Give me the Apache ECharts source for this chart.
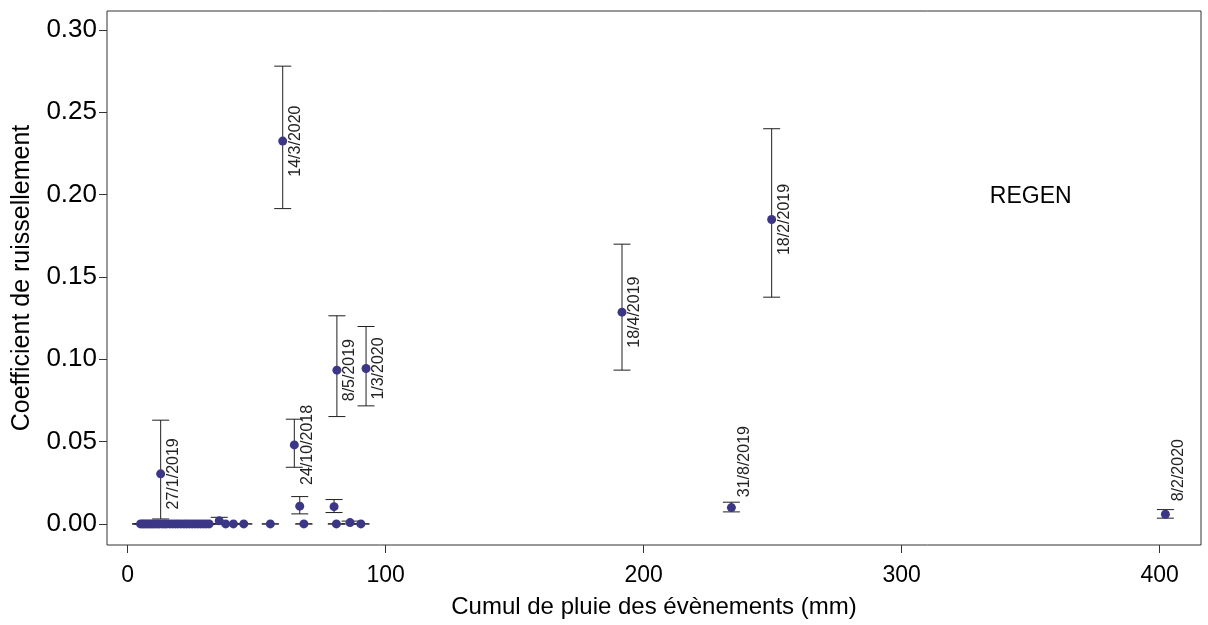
<!DOCTYPE html>
<html>
<head>
<meta charset="utf-8">
<script src="https://cdn.jsdelivr.net/npm/echarts@6/dist/echarts.min.js"></script>
<style>
html,body{margin:0;padding:0;background:#fff;}
#chart{width:1208px;height:625px;}
</style>
</head>
<body>
<div id="chart"></div>
<script>
// ---- data ----
const xTicks = [0, 100, 200, 300, 400];
const yTicks = [0, 0.05, 0.10, 0.15, 0.20, 0.25, 0.30];

// events with runoff > 0 (cumulative rain mm, coefficient, low, high, label)
const rainPos  = [12.8, 60.1, 64.6, 81.1, 92.4, 191.6, 249.6, 234.0, 402.2, 66.7, 80.0, 86.2, 35.5];
const coefPos  = [0.0304, 0.2325, 0.0480, 0.0934, 0.0944, 0.1286, 0.1849, 0.0099, 0.0059, 0.0108, 0.0105, 0.0008, 0.0020];
const lowPos   = [0.0030, 0.1915, 0.0344, 0.0652, 0.0717, 0.0934, 0.1377, 0.0073, 0.0035, 0.0061, 0.0069, 0.0000, 0.0000];
const highPos  = [0.0630, 0.2780, 0.0636, 0.1264, 0.1199, 0.1699, 0.2400, 0.0132, 0.0087, 0.0166, 0.0148, 0.0017, 0.0040];
const eventLabels = ['27/1/2019', '14/3/2020', '24/10/2018', '8/5/2019', '1/3/2020', '18/4/2019', '18/2/2019', '31/8/2019', '8/2/2020', '', '', '', ''];

// events with zero runoff (cumulative rain mm)
const rainZero = [5.0, 5.8, 6.5, 7.3, 8.1, 8.9, 9.7, 10.5, 11.4, 12.2, 13.3, 14.2, 15.1, 16.3, 17.4, 18.5, 19.5, 20.6, 21.8, 22.8, 23.9, 25.0, 26.1, 27.2, 28.3, 29.4, 30.5, 31.6, 38.0, 41.0, 45.0, 55.3, 68.3, 80.9, 90.4];

const panelTitle = 'REGEN';
const xTitle = 'Cumul de pluie des évènements (mm)';
const yTitle = 'Coefficient de ruissellement';

// ---- build ----
const pts = [];
for (let i = 0; i < rainPos.length; i++) pts.push([rainPos[i], coefPos[i], lowPos[i], highPos[i], eventLabels[i]]);
for (let i = 0; i < rainZero.length; i++) pts.push([rainZero[i], 0, 0, 0, '']);
const labelled = pts.filter(p => p[4] !== '');

const labelShift = {'31/8/2019': -46, '8/2/2020': -44};
const FONT = "'Liberation Sans', Arial, sans-serif";
const dotColor = '#3b3786';
const barColor = '#1f1f1f';

const chart = echarts.init(document.getElementById('chart'));
chart.setOption({
  animation: false,
  backgroundColor: '#fff',
  grid: {left: 107, top: 11, right: 7, bottom: 80, show: true, borderColor: '#333', borderWidth: 1,
         containLabel: false, outerBoundsMode: 'none'},
  xAxis: {
    type: 'value', min: -8, max: 416,
    name: xTitle, nameLocation: 'middle', nameGap: 50,
    nameTextStyle: {fontFamily: FONT, fontSize: 24, color: '#000'},
    axisLine: {show: false, onZero: false},
    axisTick: {show: true, inside: false, length: 8, customValues: xTicks, lineStyle: {color: '#333'}},
    axisLabel: {customValues: xTicks, margin: 19, fontFamily: FONT, fontSize: 23, color: '#000'},
    splitLine: {show: false}
  },
  yAxis: {
    type: 'value', min: -0.0128, max: 0.3115,
    name: yTitle, nameLocation: 'middle', nameGap: 72,
    nameTextStyle: {fontFamily: FONT, fontSize: 25, color: '#000'},
    axisLine: {show: false, onZero: false},
    axisTick: {show: true, inside: false, length: 8, customValues: yTicks, lineStyle: {color: '#333'}},
    axisLabel: {customValues: yTicks, margin: 10, fontFamily: FONT, fontSize: 26, color: '#000', formatter: v => v.toFixed(2)},
    splitLine: {show: false}
  },
  series: [
    {
      type: 'custom',
      data: pts,
      z: 2,
      renderItem: function (params, api) {
        const x = api.value(0);
        const lo = api.coord([x, api.value(2)]);
        const hi = api.coord([x, api.value(3)]);
        const hw = 8.5;
        const ls = {stroke: barColor, lineWidth: 1};
        return {type: 'group', children: [
          {type: 'line', shape: {x1: lo[0], y1: lo[1], x2: hi[0], y2: hi[1]}, style: ls},
          {type: 'line', shape: {x1: lo[0] - hw, y1: lo[1], x2: lo[0] + hw, y2: lo[1]}, style: ls},
          {type: 'line', shape: {x1: hi[0] - hw, y1: hi[1], x2: hi[0] + hw, y2: hi[1]}, style: ls}
        ]};
      }
    },
    {
      type: 'scatter',
      data: pts.map(p => [p[0], p[1]]),
      symbol: 'circle', symbolSize: 9,
      itemStyle: {color: dotColor, opacity: 1},
      z: 3
    },
    {
      type: 'custom',
      data: labelled.map(p => [p[0], p[1]]),
      z: 4,
      renderItem: function (params, api) {
        const lab = labelled[params.dataIndex][4];
        const c = api.coord([api.value(0), api.value(1)]);
        const dy = labelShift[lab] || 0;
        return {
          type: 'text', x: c[0] + 13, y: c[1] + dy, rotation: Math.PI / 2,
          style: {text: lab, fontFamily: FONT, fontSize: 16, fill: '#222', align: 'center', verticalAlign: 'middle'}
        };
      }
    },
    {
      type: 'custom',
      data: [[350, 0.199]],
      z: 5,
      silent: true,
      renderItem: function (params, api) {
        const c = api.coord([api.value(0), api.value(1)]);
        return {type: 'text', x: c[0], y: c[1],
          style: {text: panelTitle, fontFamily: FONT, fontSize: 23, fill: '#000', align: 'center', verticalAlign: 'middle'}};
      }
    }
  ]
});
</script>
</body>
</html>
